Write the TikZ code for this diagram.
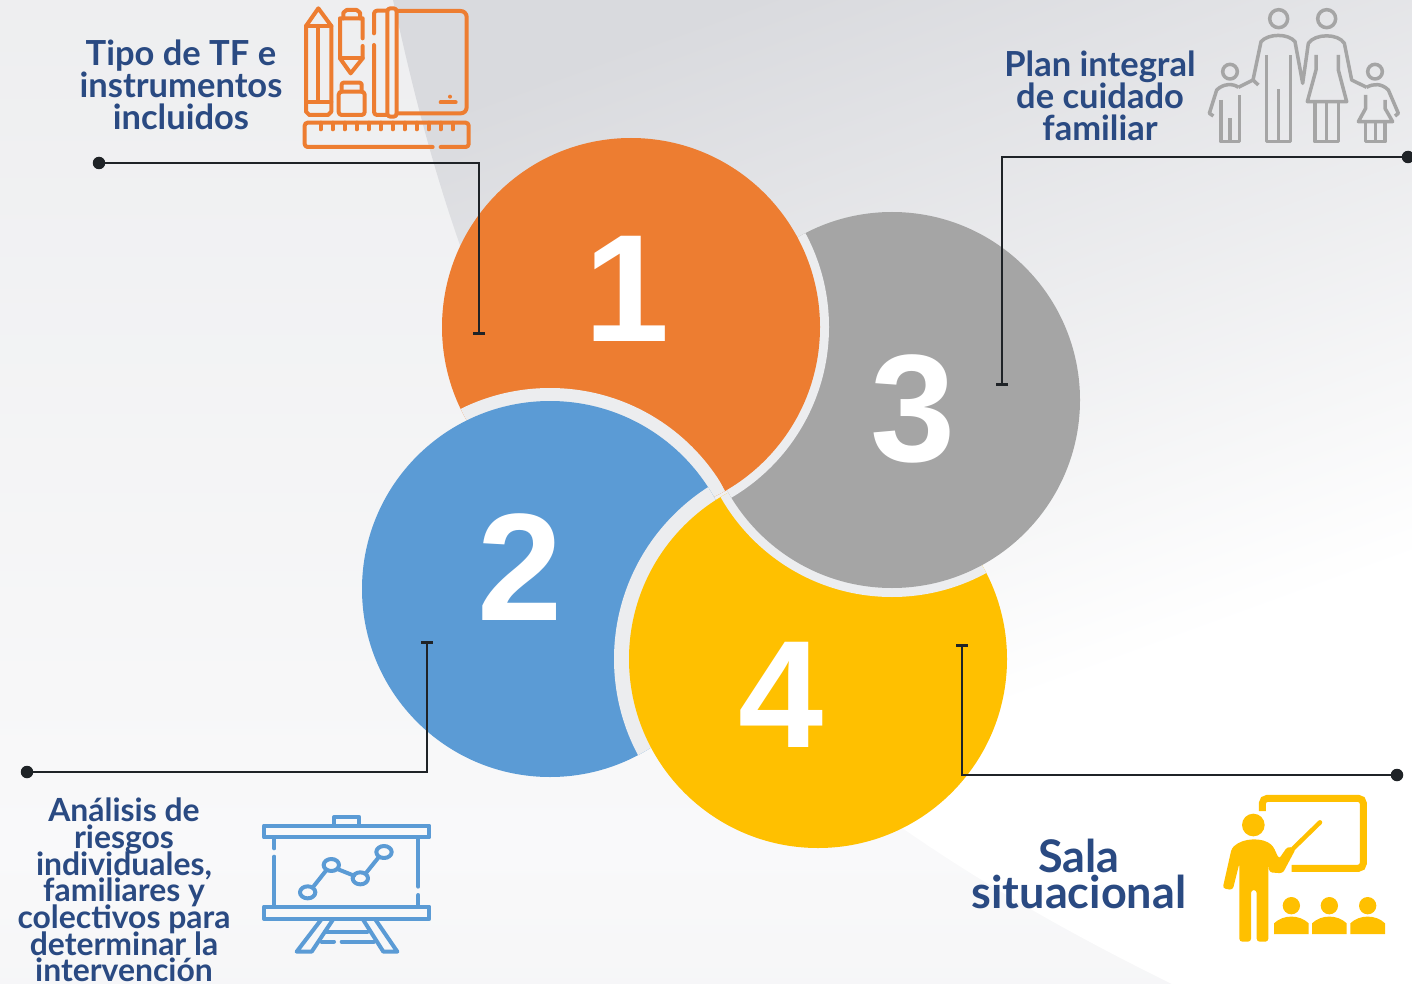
\documentclass[tikz,border=0pt]{standalone}
\usepackage{fontspec}
\setmainfont{Lato}
\usetikzlibrary{arrows.meta,shapes.geometric}
\definecolor{naranja}{HTML}{ED7D31}
\definecolor{azul}{HTML}{5B9BD5}
\definecolor{gris}{HTML}{A5A5A5}
\definecolor{amarillo}{HTML}{FFC000}
\definecolor{titulo}{HTML}{2A4A82}
\definecolor{linea}{HTML}{1F2327}
\definecolor{halo}{HTML}{ECEDEF}
\definecolor{fondoa}{HTML}{E7E8EA}
\definecolor{fondob}{HTML}{F9F9FA}
\definecolor{fondoc}{HTML}{ECEDEF}
\definecolor{fondod}{HTML}{D9DADE}
\pgfdeclareverticalshading{fondoizq}{100bp}{color(0bp)=(fondoc); color(32bp)=(fondob); color(100bp)=(fondoa)}
\pgfdeclareverticalshading{fondoder}{100bp}{color(0bp)=(white); color(38bp)=(white); color(76bp)=(fondod); color(100bp)=(fondod)}
\newcommand{\circuno}{(631,327)}
\newcommand{\circdos}{(550,589)}
\newcommand{\circtres}{(892,400)}
\newcommand{\circcuatro}{(818,659)}
\newcommand{\apretado}{\lineskiplimit=-50pt}
\begin{document}
\begin{tikzpicture}[x=1pt,y=-1pt]
\tikzset{etiq/.style={font=\bfseries\fontsize{34.5}{32}\selectfont\apretado,text=titulo,align=center,inner sep=0pt},
         num/.style={font=\fontspec{Liberation Sans}\bfseries\fontsize{153}{153}\selectfont,text=white,inner sep=0pt},
         punto/.style={circle,fill=linea,inner sep=0pt,minimum size=12.5pt},
         guia/.style={draw=linea,line width=2.6pt,-{Bar[width=12pt,length=3pt,line width=3pt]}},
         icono/.style={line width=#1,line cap=round,line join=round},
         icono/.default=4pt}
\useasboundingbox (0,0) rectangle (1412,984);
% fondo
\shade[shading=fondoizq] (0,0) rectangle (1412,984);
\shade[shading=fondoder,shading angle=20]
  (393,0) .. controls (420,120) and (470,350) .. (620,560) .. controls (760,750) and (960,880) .. (1172,984)
  -- (1412,984) -- (1412,0) -- cycle;
% circulos
\fill[naranja] \circuno circle[radius=189];
\begin{scope}
\clip \circuno circle[radius=189];
\fill[halo] \circdos circle[radius=201];
\end{scope}
\fill[azul] \circdos circle[radius=188];
\begin{scope}
\clip \circdos circle[radius=188];
\fill[halo] \circcuatro circle[radius=204];
\end{scope}
\fill[amarillo] \circcuatro circle[radius=189];
\begin{scope}
\clip \circcuatro circle[radius=189];
\fill[halo] \circtres circle[radius=197];
\end{scope}
\fill[gris] \circtres circle[radius=188];
\begin{scope}
\clip \circtres circle[radius=188];
\fill[halo] \circuno circle[radius=198];
\end{scope}
\begin{scope}
\clip \circtres circle[radius=190];
\fill[naranja] \circuno circle[radius=189];
\end{scope}
\node[num] (n1) at (627,289) {1};
\node[num] (n2) at (520,567) {2};
\node[num] (n3) at (913,409) {3};
\node[num] (n4) at (781,695) {4};
% guias
\node[punto] (p1) at (99,163) {};
\node[punto] (p2) at (27,772) {};
\node[punto] (p3) at (1408,157) {};
\node[punto] (p4) at (1397,775) {};
\coordinate (t1) at (479,334.5);
\coordinate (t2) at (427,641);
\coordinate (t3) at (1002,385.5);
\coordinate (t4) at (962,644);
\draw[guia] (p1) -| (t1);
\draw[guia] (p2) -| (t2);
\draw[guia] (p3) -| (t3);
\draw[guia] (p4) -| (t4);
% textos
\node[etiq] (e1) at (181,85) {Tipo de TF e\\instrumentos\\incluidos};
\node[etiq] (e3) at (1100,96) {Plan integral\\de cuidado\\familiar};
\node[etiq,font=\bfseries\fontsize{31.9}{26.7}\selectfont\apretado] (e2) at (124,890) {Análisis de\\riesgos\\individuales,\\familiares y\\colectivos para\\determinar la\\intervención};
\node[etiq,font=\bfseries\fontsize{45}{36}\selectfont\apretado] (e4) at (1079,874) {Sala\\situacional};
% icono 1
\begin{scope}[shift={(290,0)},scale=1/3,draw=naranja,icono]
\draw (48,78) -- (85,25) -- (124,78) -- (124,335) -- (114,345) -- (58,345) -- (48,335) -- cycle;
\draw (48,78) -- (124,78) (85,78) -- (85,305) (48,305) -- (124,305);
\draw (218,115) -- (218,55) -- (150,55) -- (150,175) -- (182,220) -- (218,175) -- (218,138);
\draw (150,175) -- (218,175);
\draw (160,55) -- (160,38) -- (170,30) -- (200,30) -- (210,38) -- (210,55);
\draw[rounded corners=3pt] (146,345) rectangle (224,275);
\draw[rounded corners=2pt] (155,275) -- (155,248) -- (215,248) -- (215,275);
\draw[rounded corners=3pt] (252,100) -- (252,32) -- (292,32) (292,345) -- (252,345) -- (252,135);
\draw[rounded corners=3pt] (292,25) rectangle (320,350);
\draw[rounded corners=6pt] (320,33) -- (530,33) -- (530,340) -- (320,340);
\draw (452,307) -- (497,307);
\fill[naranja] (480,290) circle[radius=6];
\draw[rounded corners=3pt] (428,441) -- (44,441) -- (44,368) -- (536,368) -- (536,441) -- (452,441);
\foreach \xr in {92,128,...,488} \draw (\xr,368) -- (\xr,388);
\end{scope}
% icono 3
\begin{scope}[shift={(1200,0)},scale=1/3,draw=gris,icono=3.5pt,line cap=butt]
\draw (236,56) circle[radius=27];
\draw (380,56) circle[radius=27];
\draw (175,255) -- (159,240) -- (183,125) .. controls (205,100) and (265,100) .. (285,125) -- (308,250) -- (325,130) .. controls (345,100) and (415,100) .. (433,130) -- (455,240) -- (500,262);
\draw (115,262) -- (159,240);
\draw (200,165) -- (200,425) -- (272,425) -- (272,165);
\draw (236,268) -- (236,425);
\draw (348,165) -- (348,210) -- (322,305) -- (440,305) -- (415,210) -- (415,165);
\draw (345,305) -- (345,425) -- (415,425) -- (415,305) (380,305) -- (380,425);
\draw (90,215) circle[radius=22];
\draw (40,348) -- (28,340) -- (50,270) .. controls (70,250) and (100,250) .. (115,262);
\draw (63,300) -- (63,425) -- (118,425) -- (118,285) (90,355) -- (90,425);
\draw (525,215) circle[radius=22];
\draw (500,262) .. controls (520,250) and (545,250) .. (565,270) -- (595,340) -- (585,348);
\draw (497,285) -- (497,325) -- (475,365) -- (578,365) -- (555,325) -- (555,300);
\draw (497,365) -- (497,425) -- (555,425) -- (555,365) (527,365) -- (527,425);
\end{scope}
% icono 2
\begin{scope}[shift={(250,805)},scale=1/3,draw=azul,icono]
\draw (42,62) rectangle (538,97);
\draw (252,62) -- (252,36) -- (328,36) -- (328,62);
\draw (73,97) -- (73,130) (73,155) -- (73,305);
\draw (505,97) -- (505,245) (505,270) -- (505,305);
\draw (42,305) rectangle (538,342);
\draw (173,262) ellipse[x radius=23,y radius=18];
\draw (244,180) ellipse[x radius=23,y radius=18];
\draw (331,220) ellipse[x radius=23,y radius=18];
\draw (402,141) ellipse[x radius=23,y radius=18];
\draw (190,245) -- (228,197) (262,192) -- (312,212) (348,204) -- (385,158);
\draw (215,342) -- (140,440) -- (185,440) -- (250,342);
\draw (338,342) -- (400,440) -- (442,440) -- (375,342);
\draw (225,380) -- (352,380) (215,410) -- (252,410) (275,410) -- (372,410);
\end{scope}
% icono 4
\begin{scope}[shift={(1210,785)},scale=1/3,amarillo]
\draw[draw=amarillo,line width=7pt,rounded corners=5pt] (157,78) -- (157,40) -- (460,40) -- (460,250) -- (245,250);
\fill (130,120) circle[radius=34];
\fill[rounded corners=3pt] (38,310) -- (65,190) .. controls (100,157) and (160,157) .. (190,185) -- (207,222) -- (232,185) -- (258,190) -- (218,265) -- (178,262) -- (175,235) -- (175,470) -- (140,470) -- (140,315) -- (123,315) -- (123,470) -- (88,470) -- (88,235) -- (68,315) -- cycle;
\draw[draw=amarillo,line width=4.5pt,line cap=round] (250,190) -- (330,112);
\foreach \xc in {244,358,473} {
  \fill (\xc,362) circle[radius=26];
  \fill (\xc-52,447) -- (\xc-52,415) .. controls (\xc-25,388) and (\xc+25,388) .. (\xc+52,415) -- (\xc+52,447) -- cycle;
}
\end{scope}
\end{tikzpicture}
\end{document}
